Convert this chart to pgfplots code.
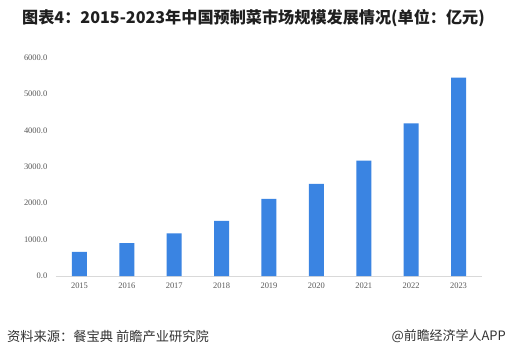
\documentclass[border=0pt]{standalone}
\usepackage{pgfplots}
\pgfplotsset{compat=1.18}
\usepackage{fontspec}
\setmainfont{Liberation Serif}
\newfontfamily\cjk{Noto Sans CJK SC}
\definecolor{barblue}{HTML}{3A84E2}
\definecolor{tickgray}{HTML}{595959}
\definecolor{axgray}{HTML}{D9D9D9}
\begin{document}
\begin{tikzpicture}
\useasboundingbox (0bp,0bp) rectangle (507bp,357bp);
\fill[white] (0bp,0bp) rectangle (507bp,357bp);
\node[anchor=center, font=\cjk\bfseries\fontsize{16.2}{18}\selectfont, text=black!88] at (253.5bp,339bp) {图表4：2015-2023年中国预制菜市场规模发展情况(单位：亿元)};
\node[anchor=west, font=\cjk\fontsize{13.3}{15}\selectfont, text=black!80, inner sep=0pt] at (7bp,21bp) {资料来源：餐宝典 前瞻产业研究院};
\node[anchor=east, font=\cjk\fontsize{13}{15}\selectfont, text=black!80, inner sep=0pt] at (506bp,21bp) {@前瞻经济学人APP};
\begin{axis}[
  at={(55.8bp,81bp)}, anchor=south west,
  scale only axis, width=426.4bp, height=218.3bp,
  xmin=-0.5, xmax=8.5, ymin=0, ymax=6000,
  axis x line*=bottom, axis y line*=left,
  x axis line style={draw=axgray, line width=0.8pt, -},
  y axis line style={draw=none, -},
  xtick={0,...,8},
  xticklabels={2015,2016,2017,2018,2019,2020,2021,2022,2023},
  ytick={0,1000,...,6000},
  yticklabels={0.0,1000.0,2000.0,3000.0,4000.0,5000.0,6000.0},
  major tick length=0pt,
  yticklabel style={text=tickgray, font=\fontsize{8.5}{10}\selectfont},
  xticklabel style={text=tickgray, font=\fontsize{8.5}{10}\selectfont},
  xticklabel shift=3pt,
  yticklabel shift=5pt,
  clip=false,
]
\addplot[ybar, bar width=15bp, fill=barblue, draw=none] coordinates {
  (0,660) (1,905) (2,1172) (3,1512) (4,2118) (5,2530) (6,3170) (7,4192) (8,5455)
};
\end{axis}
\end{tikzpicture}
\end{document}
